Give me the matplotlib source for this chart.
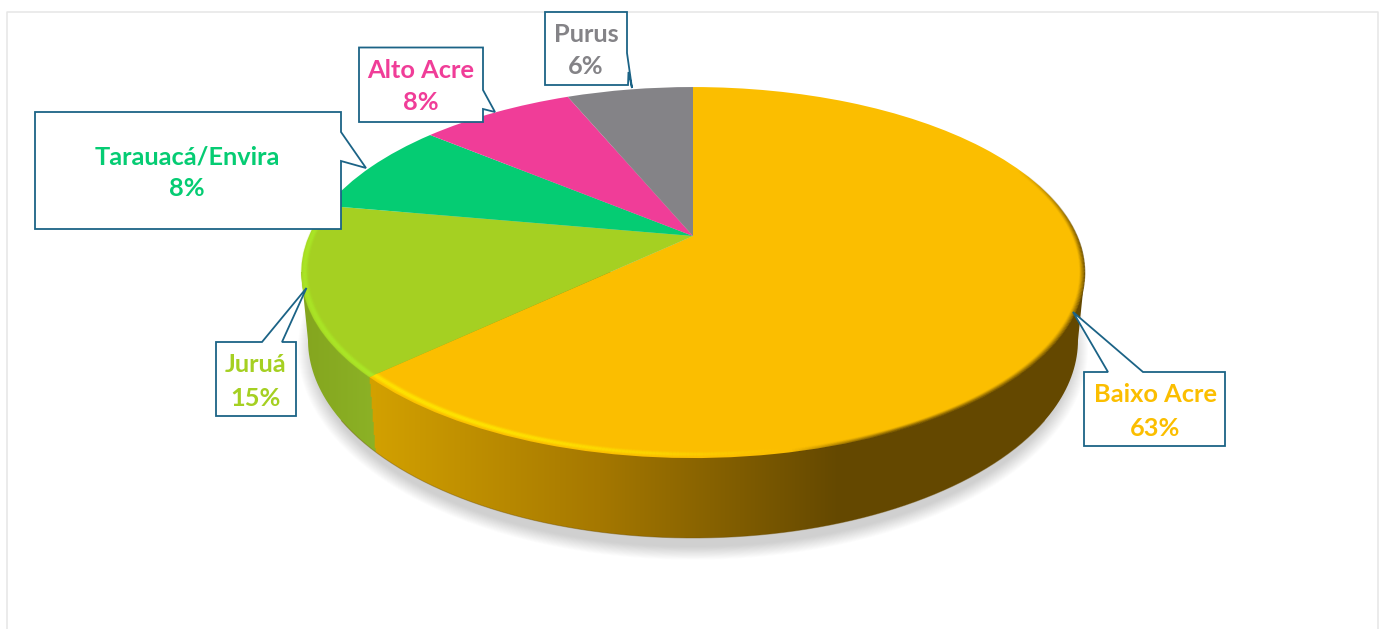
import matplotlib
matplotlib.use("Agg")
import matplotlib.pyplot as plt
import numpy as np
from matplotlib.collections import LineCollection
from matplotlib.patches import Ellipse, PathPatch, Polygon
from matplotlib.path import Path
from matplotlib.transforms import Transform

plt.rcParams['font.family'] = ['Lato', 'DejaVu Sans']

regions = ["Baixo Acre", "Juruá", "Tarauacá/Envira", "Alto Acre", "Purus"]
shares = [63, 14.8, 8.2, 7.7, 6.3]
colors = ["#FBBE00", "#A5D022", "#05CC73", "#F03D98", "#848387"]

# perspective of the top face, in pixels of the picture
APEX_X, APEX_Y = 693, 236
SCALE_X, SCALE_Y, TILT = 384, 178.3, 0.197
# bottom face of the disc
BOT_X, BOT_Y, BOT_RX, BOT_RY = 693, 340, 385, 198
LINE = "#1B6386"


class TiltTransform(Transform):
    input_dims = 2
    output_dims = 2
    is_separable = False
    has_inverse = False

    def transform_non_affine(self, values):
        values = np.asarray(values)
        d = 1 + TILT * values[:, 1]
        return np.column_stack([APEX_X + SCALE_X * values[:, 0] / d,
                                APEX_Y - SCALE_Y * values[:, 1] / d])


tilt = TiltTransform()

fig = plt.figure(figsize=(13.84, 6.29), dpi=100)
ax = fig.add_axes([0, 0, 1, 1])

wedges, _ = ax.pie(shares, colors=colors, startangle=90, counterclock=False,
                   wedgeprops={"transform": tilt + ax.transData, "linewidth": 0, "zorder": 5})
ax.set_aspect("auto")
ax.set_xlim(0, 1384)
ax.set_ylim(629, 0)
ax.axis("off")

# frame of the slide
ax.plot([7, 7, 1378, 1378], [629, 12, 12, 629], color="#E6E6E6", lw=1.1, zorder=1)

# soft shadow
for i in range(16):
    ax.add_patch(Ellipse((BOT_X, BOT_Y + 9), 2 * (BOT_RX - 5 + i), 2 * (BOT_RY + i * 0.85),
                         facecolor="#555555", edgecolor="none", alpha=0.015, zorder=2))

# side of the disc
t = np.linspace(0, np.pi, 300)
side_x = BOT_X + BOT_RX * np.cos(t)
side_y = BOT_Y + BOT_RY * np.sin(t)
hull = np.column_stack([np.r_[1085, side_x, 301], np.r_[272, side_y, 272]])
hull_patch = PathPatch(Path(np.vstack([hull, hull[0]])), transform=ax.transData, facecolor="none", edgecolor="none")
ax.add_patch(hull_patch)

split_angle = np.deg2rad(90 - 360 * shares[0] / 100)
split_top = tilt.transform(np.array([[np.cos(split_angle), np.sin(split_angle)]]))[0]
grid_x, grid_y = np.meshgrid(np.arange(1384), np.arange(629))
gold = np.stack([np.interp(grid_x, [376, 600, 840], c) for c in ([210, 165, 100], [160, 120, 72], [0, 0, 0])], axis=-1)
green = np.stack([np.interp(grid_x, [300, 376], c) for c in ([132, 140], [165, 178], [30, 38])], axis=-1)
split_line = split_top[0] + (grid_y - split_top[1]) * 6 / 77
side = np.where((grid_x < split_line)[..., None], green, gold).astype(np.uint8)
im = ax.imshow(side, extent=(-0.5, 1383.5, 628.5, -0.5), zorder=3, aspect="auto")
im.set_clip_path(hull_patch)
ax.set_xlim(0, 1384)
ax.set_ylim(629, 0)
ax.plot(side_x[40:260], side_y[40:260], color="#6B4C00", lw=0.7, alpha=0.4, zorder=4)


def rim(start, end, scale):
    a = np.deg2rad(90 - np.linspace(start, end, 400))
    pts = tilt.transform(scale * np.column_stack([np.cos(a), np.sin(a)]))
    return pts


# bevel along the edge of the top face, thin rings with a soft profile
gold_end = 360 * shares[0] / 100
for scale in np.linspace(1.0, 0.972, 15):
    a_bright = np.exp(-((scale - 0.986) / 0.007) ** 2)
    a_dark = np.clip((scale - 0.986) / 0.014, 0, 1) ** 1.5
    a_green = np.exp(-((scale - 0.992) / 0.007) ** 2)

    pts = rim(60, gold_end, scale)
    segs = np.stack([pts[:-1], pts[1:]], axis=1)
    mx = segs[:, :, 0].mean(axis=1)
    my = segs[:, :, 1].mean(axis=1)
    rgba = np.zeros((len(segs), 4))
    light = np.clip((790 - mx) / 330, 0, 1)
    shade = np.clip((mx - 790) / 110, 0, 1) * np.clip((my - 170) / 80, 0, 1)
    rgba[:, :3] = np.where((mx < 790)[:, None], [[1.0, 0.91, 0.0]], [[0.40, 0.29, 0.0]])
    rgba[:, 3] = np.where(mx < 790, light * a_bright * 0.75, shade * a_dark * 0.8)
    ax.add_collection(LineCollection(segs, colors=rgba, linewidths=0.9, zorder=6))

    pts = rim(gold_end, 278, scale)
    segs = np.stack([pts[:-1], pts[1:]], axis=1)
    ax.add_collection(LineCollection(segs, colors=[(0.68, 0.93, 0.16, a_green * 0.8)], linewidths=0.9, zorder=6))

# callouts
callouts = [
    [(1084, 372), (1108, 372), (1073, 312), (1143, 372), (1225, 372), (1225, 446), (1084, 446)],
    [(216, 342), (262, 342), (306.5, 288), (282, 342), (296, 342), (296, 416), (216, 416)],
    [(35, 112), (341, 112), (341, 132), (366, 168), (341, 161), (341, 229), (35, 229)],
    [(359, 47.5), (483, 47.5), (483, 90), (495, 112), (483, 109), (483, 122), (359, 122)],
    [(545, 12), (627, 12), (627, 53), (632, 88), (628.5, 72), (628, 85), (545, 85)],
]
label_x = [1155, 256, 187, 421, 586]
name_y = [395, 365, 157, 70, 34]
share_y = [428, 399, 189, 103, 67]

for i, box in enumerate(callouts):
    ax.add_patch(Polygon(box, closed=True, facecolor="white", edgecolor=LINE, lw=1.3, zorder=8))
    ax.text(label_x[i], name_y[i], regions[i], color=colors[i], fontsize=18.3, fontweight="bold",
            ha="center", va="center", zorder=9)
    ax.text(label_x[i], share_y[i], f"{shares[i]:.0f}%", color=colors[i], fontsize=18.3, fontweight="bold",
            ha="center", va="center", zorder=9)

plt.savefig("out.png", dpi=100, facecolor="white")
plt.close()
